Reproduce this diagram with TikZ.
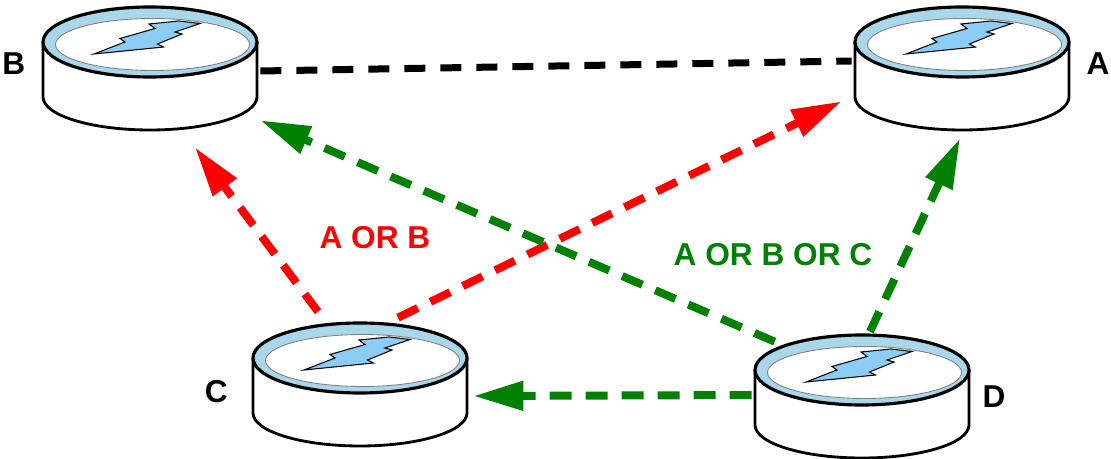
\documentclass[tikz,border=0pt]{standalone}
\usepackage{fontspec}
\setmainfont{Liberation Sans}
\usetikzlibrary{arrows.meta}
\usetikzlibrary{positioning}
\definecolor{ringblue}{RGB}{170,214,234}
\definecolor{boltblue}{RGB}{140,205,245}
\definecolor{pathgreen}{RGB}{0,128,0}
\definecolor{pathred}{RGB}{255,0,0}

\tikzset{
	router/.style={minimum width=4.4cm,minimum height=2.6cm,inner sep=0pt,
		path picture={
			\begin{scope}[shift={(path picture bounding box.center)}]
				\draw[line width=1.6pt,fill=white] (-2.14,0.53) -- (-2.14,-0.57)
					arc[start angle=180,end angle=360,x radius=2.14,y radius=0.66] -- (2.14,0.53);
				\draw[line width=1.8pt,fill=ringblue] (0,0.53) ellipse [x radius=2.14,y radius=0.70];
				\draw[line width=0.5pt,draw=gray,fill=white] (0.05,0.48) ellipse [x radius=1.94,y radius=0.52];
				\draw[line width=0.6pt,fill=boltblue,line join=miter]
					(-1.12,0.29) -- (-0.50,0.53) -- (-0.60,0.60) -- (0.10,0.80) -- (-0.02,0.89)
					-- (0.58,0.95) -- (1.00,0.90) -- (0.50,0.73) -- (0.64,0.69) -- (0.15,0.49)
					-- (0.27,0.43) -- cycle;
			\end{scope}
		}
	},
	tag/.style={font=\bfseries\fontsize{18}{21}\selectfont,inner sep=0pt}
}

\begin{document}
\begin{tikzpicture}[
		redpath/.style={pathred,line width=0.16cm,dash pattern=on 0.44cm off 0.28cm,
			-{Triangle[length=1cm,width=0.56cm]}},
		greenpath/.style={pathgreen,line width=0.16cm,dash pattern=on 0.44cm off 0.28cm,
			-{Triangle[length=1cm,width=0.56cm]}},
		linkpath/.style={black,line width=0.14cm,dash pattern=on 0.42cm off 0.3cm}
	]
	\useasboundingbox (0,0) rectangle (22.22,9.18);

	\node[router] (B) at (3.00,7.81) {};
	\node[router] (A) at (19.24,7.81) {};
	\node[router] (C) at (7.20,1.49) {};
	\node[router] (D) at (17.24,1.25) {};

	\node[tag,left=2.8mm of B.west,yshift=1mm] (tagB) {B};
	\node[tag,right=2.8mm of A.east,yshift=1mm] (tagA) {A};
	\node[tag,left=4.3mm of C.west,yshift=-1.5mm] (tagC) {C};
	\node[tag,right=2mm of D.east] (tagD) {D};

	\draw[linkpath] ([yshift=-0.5mm]B.east) -- ([yshift=1.5mm]A.west);

	\draw[redpath] ([shift={(-0.84,0.15)}]C.north) -- ([shift={(0.90,-0.27)}]B.south);
	\draw[redpath] ([shift={(0.76,0.03)}]C.north) -- ([shift={(-0.20,0.65)}]A.south west);

	\draw[greenpath] ([shift={(0.46,-0.21)}]D.north west) -- ([shift={(0,0.27)}]B.south east);
	\draw[greenpath] ([shift={(0.16,-0.01)}]D.north) -- ([shift={(-0.04,-0.09)}]A.south);
	\draw[greenpath] ([yshift=0.3mm]D.west) -- ([shift={(0.06,-0.23)}]C.east);

	\node[tag,text=pathred] (orAB) at (7.50,4.42) {A OR B};
	\node[tag,text=pathgreen] (orABC) at (15.46,4.08) {A OR B OR C};
\end{tikzpicture}
\end{document}
